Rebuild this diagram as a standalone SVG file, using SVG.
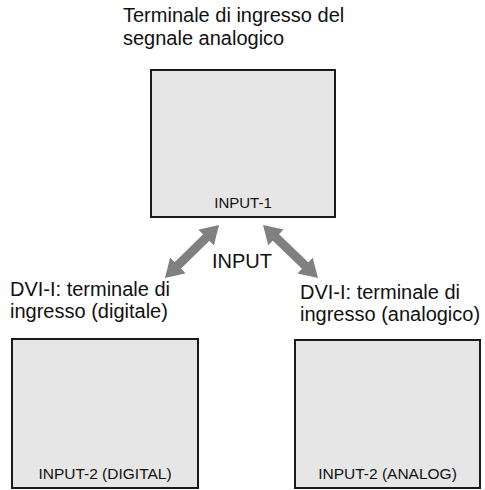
<svg xmlns="http://www.w3.org/2000/svg" width="485" height="490" viewBox="0 0 485 490">
<defs>
<style>
.box{fill:#e6e6e6;stroke:#1a1a1a;stroke-width:2}
.lbl{font-family:"Liberation Sans",Arial,sans-serif;font-size:20px;fill:#111}
.in{font-family:"Liberation Sans",Arial,sans-serif;font-size:15px;fill:#111;text-anchor:middle}
.arr{stroke:#808080;stroke-width:9;fill:none}
</style>
<marker id="ah" viewBox="0 0 18 22" refX="8" refY="11" markerWidth="18" markerHeight="22" markerUnits="userSpaceOnUse" orient="auto-start-reverse">
<path d="M0,0 L18,11 L0,22 z" fill="#808080"/>
</marker>
</defs>
<rect width="485" height="490" fill="#fff"/>
<g id="top-node">
<text class="lbl" x="123" y="22">Terminale di ingresso del</text>
<text class="lbl" x="123" y="45">segnale analogico</text>
<rect class="box" x="151" y="70" width="184" height="147"/>
<text class="in" x="243" y="208">INPUT-1</text>
</g>
<g id="left-node">
<text class="lbl" x="10" y="296">DVI-I: terminale di</text>
<text class="lbl" x="10" y="318">ingresso (digitale)</text>
<rect class="box" x="12" y="339" width="186" height="149"/>
<text class="in" x="105" y="479" style="font-size:15.5px">INPUT-2 (DIGITAL)</text>
</g>
<g id="right-node">
<text class="lbl" x="300" y="299">DVI-I: terminale di</text>
<text class="lbl" x="300" y="321">ingresso (analogico)</text>
<rect class="box" x="295" y="340" width="185" height="148"/>
<text class="in" x="387.5" y="479" style="font-size:15.5px">INPUT-2 (ANALOG)</text>
</g>
<g id="connectors">
<line class="arr" x1="211.9" y1="232" x2="172.1" y2="271" marker-start="url(#ah)" marker-end="url(#ah)"/>
<line class="arr" x1="270.2" y1="231.9" x2="310.8" y2="271.1" marker-start="url(#ah)" marker-end="url(#ah)"/>
<text class="lbl" x="212" y="268">INPUT</text>
</g>
</svg>
